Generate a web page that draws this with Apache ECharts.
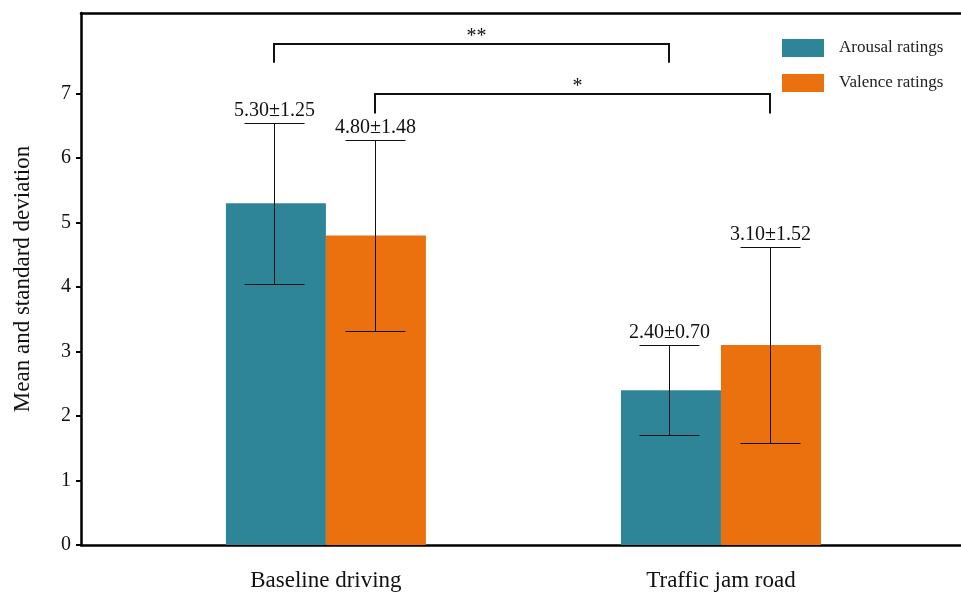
<!DOCTYPE html>
<html>
<head>
<meta charset="utf-8">
<script src="https://cdn.jsdelivr.net/npm/echarts@6/dist/echarts.min.js"></script>
<style>
  html, body { margin: 0; padding: 0; background: #fff; }
  #chart { width: 961px; height: 592px; }
</style>
</head>
<body>
<div id="chart"></div>
<script>
const categories = ['Baseline driving', 'Traffic jam road'];
const arousalMean = [5.30, 2.40];
const arousalSd = [1.25, 0.70];
const valenceMean = [4.80, 3.10];
const valenceSd = [1.48, 1.52];
const yTicks = [0, 1, 2, 3, 4, 5, 6, 7];

// significance brackets between the two groups
const sigSeries = ['arousal', 'valence'];
const sigTop = [7.77, 7.0];
const sigDrop = [0.29, 0.31];
const sigMarks = ['**', '*'];

const FONT = '"Liberation Serif", "Times New Roman", serif';
const BAR_W = 100;
const CAP = 30;
const STEM_OFF = { arousal: -52, valence: 49 };

const crisp = v => Math.round(v) + 0.5;

function barRender(key) {
  return function (params, api) {
    const x = api.value(0);
    const m = api.value(1);
    const sd = api.value(2);
    const base = api.coord([x, 0]);
    const top = api.coord([x, m]);
    const yHi = crisp(api.coord([x, m + sd])[1]);
    const yLo = crisp(api.coord([x, m - sd])[1]);
    const x0 = key === 'arousal' ? base[0] - BAR_W : base[0];
    const cx = crisp(base[0] + STEM_OFF[key]);
    const line = { stroke: '#111', lineWidth: 1 };
    return {
      type: 'group',
      children: [
        {
          type: 'rect',
          shape: { x: x0, y: top[1], width: BAR_W, height: base[1] - top[1] },
          style: { fill: api.visual('color') }
        },
        { type: 'line', shape: { x1: cx, y1: yHi, x2: cx, y2: yLo }, style: line },
        { type: 'line', shape: { x1: cx - CAP, y1: yHi, x2: cx + CAP, y2: yHi }, style: line },
        { type: 'line', shape: { x1: cx - CAP, y1: yLo, x2: cx + CAP, y2: yLo }, style: line },
        {
          type: 'text',
          x: cx,
          y: yHi - 3,
          style: {
            text: m.toFixed(2) + '±' + sd.toFixed(2),
            font: '20px ' + FONT,
            fill: '#111',
            align: 'center',
            verticalAlign: 'bottom'
          }
        }
      ]
    };
  };
}

function bracketRender(params, api) {
  const i = params.dataIndex;
  const off = STEM_OFF[sigSeries[i]];
  const a = api.coord([0, sigTop[i]]);
  const b = api.coord([1, sigTop[i]]);
  const low = api.coord([0, sigTop[i] - sigDrop[i]])[1];
  const xa = Math.round(a[0] + off);
  const xb = Math.round(b[0] + off);
  const y = Math.round(a[1]);
  return {
    type: 'group',
    children: [
      {
        type: 'polyline',
        shape: { points: [[xa, low], [xa, y], [xb, y], [xb, low]] },
        style: { stroke: '#111', lineWidth: 2, fill: null }
      },
      {
        type: 'text',
        x: (xa + xb) / 2 + 5,
        y: y + 3,
        style: {
          text: sigMarks[i],
          font: '20px ' + FONT,
          fill: '#111',
          align: 'center',
          verticalAlign: 'bottom'
        }
      }
    ]
  };
}

const chart = echarts.init(document.getElementById('chart'));

const xMin = -0.62;
const xMax = 1.6076;

chart.setOption({
  animation: false,
  grid: { left: 81, right: 0, top: 13, bottom: 47 },
  legend: {
    orient: 'vertical',
    left: 777,
    top: 34,
    icon: 'rect',
    itemWidth: 42,
    itemHeight: 18,
    itemGap: 17,
    textStyle: { fontFamily: FONT, fontSize: 17, color: '#222', padding: [0, 0, 0, 10] },
    data: ['Arousal ratings', 'Valence ratings']
  },
  xAxis: [
    {
      type: 'value',
      min: xMin,
      max: xMax,
      splitLine: { show: false },
      axisLine: { onZero: false, lineStyle: { color: '#000', width: 2.5 } },
      axisTick: { show: false },
      axisLabel: {
        customValues: [0, 1],
        formatter: v => categories[Math.round(v)],
        fontFamily: FONT,
        fontSize: 23,
        color: '#111',
        margin: 24
      }
    },
    {
      type: 'value',
      position: 'top',
      min: xMin,
      max: xMax,
      splitLine: { show: false },
      axisLine: { onZero: false, lineStyle: { color: '#000', width: 2.5 } },
      axisTick: { show: false },
      axisLabel: { show: false }
    }
  ],
  yAxis: {
    type: 'value',
    min: 0,
    max: 8.25,
    name: 'Mean and standard deviation',
    nameLocation: 'middle',
    nameGap: 47,
    nameTextStyle: { fontFamily: FONT, fontSize: 23, color: '#111' },
    splitLine: { show: false },
    axisLine: { show: true, onZero: false, lineStyle: { color: '#000', width: 2.5 } },
    axisTick: { show: true, length: 5, customValues: yTicks, lineStyle: { color: '#000', width: 2 } },
    axisLabel: {
      customValues: yTicks,
      fontFamily: FONT,
      fontSize: 20,
      color: '#111',
      margin: 10
    }
  },
  series: [
    {
      name: 'Arousal ratings',
      type: 'custom',
      itemStyle: { color: '#2E8598' },
      renderItem: barRender('arousal'),
      data: arousalMean.map((m, i) => [i, m, arousalSd[i]])
    },
    {
      name: 'Valence ratings',
      type: 'custom',
      itemStyle: { color: '#EB710F' },
      renderItem: barRender('valence'),
      data: valenceMean.map((m, i) => [i, m, valenceSd[i]])
    },
    {
      name: 'significance',
      type: 'custom',
      renderItem: bracketRender,
      data: sigTop.map((t, i) => [0.5, t])
    }
  ]
});
</script>
</body>
</html>
